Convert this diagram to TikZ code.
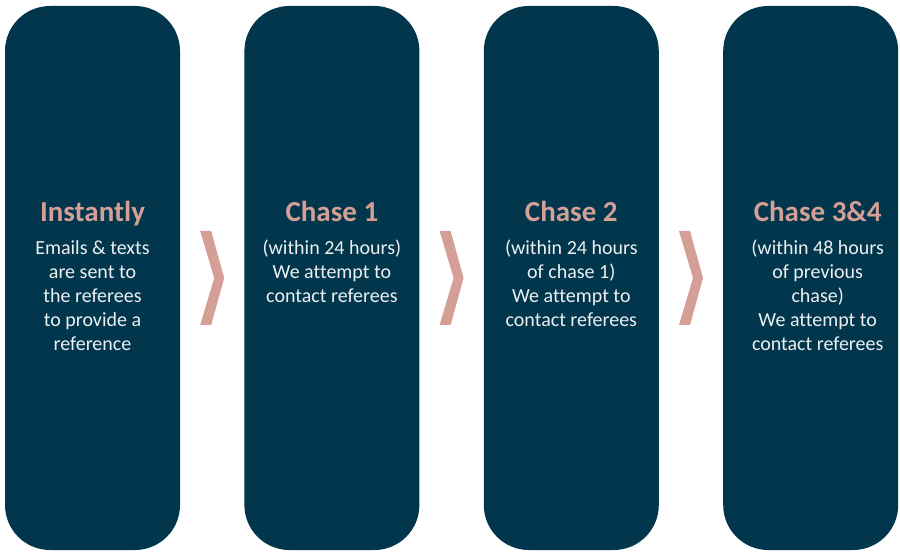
\documentclass[tikz,border=0pt]{standalone}
\usepackage{fontspec}
\setmainfont[Ligatures=NoCommon]{Carlito}
\usetikzlibrary{positioning,calc}
\definecolor{navy}{RGB}{2,54,76}
\definecolor{rosy}{RGB}{212,160,150}
\definecolor{pale}{RGB}{236,240,242}

\begin{document}
\begin{tikzpicture}[x=1pt,y=-1pt,
		stage/.style={fill=navy,rounded corners=45pt,minimum width=175pt,minimum height=544pt,inner sep=0pt},
		head/.style={text=rosy,font=\fontsize{29}{32}\selectfont\bfseries,anchor=base,inner sep=0pt},
		body/.style={text=pale,font=\fontsize{20}{24}\selectfont,align=center,anchor=north,inner sep=0pt},
		chev/.pic={\fill[rosy] (-12,-47) -- (-1,-47) -- (12,0) -- (-1,47) -- (-12,47) -- (2,0) -- cycle;}]
	\useasboundingbox (0,0) rectangle (900,553);
	%
	\node[stage] (s1) at (92.5,278) {};
	\node[stage,right=64pt of s1] (s2) {};
	\node[stage,right=64pt of s2] (s3) {};
	\node[stage,right=64pt of s3] (s4) {};
	%
	\pic at ($(s1.east)!0.5!(s2.west)$) {chev};
	\pic at ($(s2.east)!0.5!(s3.west)$) {chev};
	\pic at ($(s3.east)!0.5!(s4.west)$) {chev};
	%
	\node[head] (h1) at (s1.center |- 0,222) {Instantly};
	\node[head] (h2) at (s2.center |- 0,222) {Chase 1};
	\node[head] (h3) at (s3.center |- 0,222) {Chase 2};
	\node[head] (h4) at ($(s4.center |- 0,222)+(7,0)$) {Chase 3\&4};
	%
	\node[body] (t1) at (h1.base |- 0,240) {Emails \& texts\\are sent to\\the referees\\to provide a\\reference};
	\node[body] (t2) at (h2.base |- 0,240) {(within 24 hours)\\We attempt to\\contact referees};
	\node[body] (t3) at (h3.base |- 0,240) {(within 24 hours\\of chase 1)\\We attempt to\\contact referees};
	\node[body] (t4) at (h4.base |- 0,240) {(within 48 hours\\of previous\\chase)\\We attempt to\\contact referees};
\end{tikzpicture}
\end{document}
